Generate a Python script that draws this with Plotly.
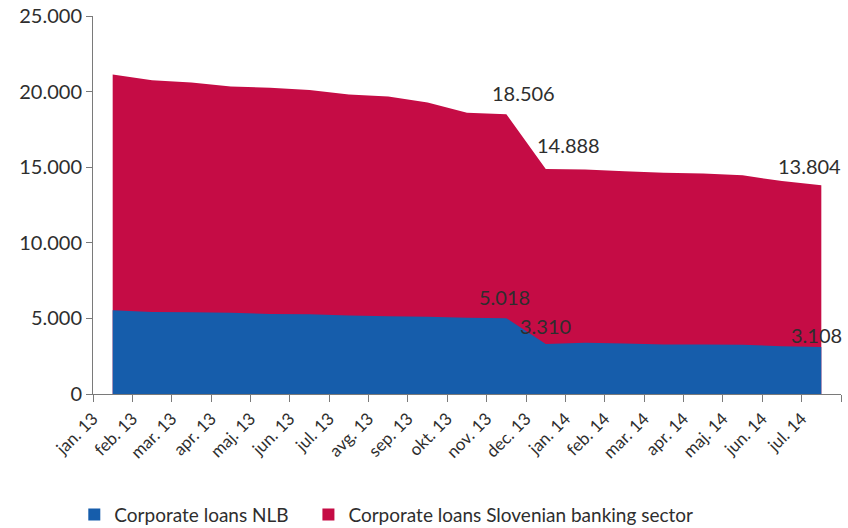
import numpy as np
import plotly.graph_objects as go

# Monthly corporate loans (EUR million)
months = ["jan. 13", "feb. 13", "mar. 13", "apr. 13", "maj. 13", "jun. 13", "jul. 13",
          "avg. 13", "sep. 13", "okt. 13", "nov. 13", "dec. 13", "jan. 14", "feb. 14",
          "mar. 14", "apr. 14", "maj. 14", "jun. 14", "jul. 14"]
loans_nlb = [5540, 5430, 5400, 5380, 5290, 5270, 5200, 5140, 5110, 5050, 5018,
             3310, 3390, 3340, 3280, 3280, 3260, 3150, 3108]
loans_sector = [21130, 20750, 20600, 20340, 20250, 20110, 19810, 19680, 19280, 18600,
                18506, 14888, 14840, 14740, 14630, 14590, 14460, 14080, 13804]
y_ticks = [0, 5000, 10000, 15000, 20000, 25000]

RED = "#C50C45"
BLUE = "#165DAB"
TEXT = "#2e2e2e"
AXIS = "#7a7a7a"
FONT = "Lato"

n = len(months)
# points sit in the middle of each month slot, labels at the slot boundaries
xs = np.arange(n) + 0.5

fig = go.Figure()
fig.add_trace(go.Scatter(x=xs, y=loans_sector, mode="none", fill="tozeroy",
                         fillcolor=RED, showlegend=False, hoverinfo="skip"))
fig.add_trace(go.Scatter(x=xs, y=loans_nlb, mode="none", fill="tozeroy",
                         fillcolor=BLUE, showlegend=False, hoverinfo="skip"))

# square legend keys, one legend box each so the spacing can be set
fig.add_trace(go.Scatter(x=[None], y=[None], mode="markers", name="Corporate loans NLB",
                         marker=dict(symbol="square", size=15, color=BLUE), legend="legend"))
fig.add_trace(go.Scatter(x=[None], y=[None], mode="markers",
                         name="Corporate loans Slovenian banking sector",
                         marker=dict(symbol="square", size=15, color=RED), legend="legend2"))

# value labels: (series, index, xshift, yshift)
labelled = [(loans_sector, 10, 17, 21), (loans_sector, 11, 23, 24), (loans_sector, 18, -12, 19),
            (loans_nlb, 10, -2, 21), (loans_nlb, 11, 0, 18), (loans_nlb, 18, -5, 12)]
for series, i, dx, dy in labelled:
    fig.add_annotation(x=xs[i], y=series[i], text=f"{series[i]:,}".replace(",", "."),
                       showarrow=False, xshift=dx, yshift=dy,
                       font=dict(family=FONT, size=20, color=TEXT))

fig.update_xaxes(range=[0, n], tickmode="array", tickvals=list(range(n + 1)),
                 ticktext=months + [""], tickangle=-45,
                 showline=True, linecolor=AXIS, linewidth=1,
                 ticks="outside", ticklen=7, tickcolor=AXIS,
                 showgrid=False, zeroline=False, automargin=False,
                 tickfont=dict(family=FONT, size=17, color=TEXT))
fig.update_yaxes(range=[0, 25000], tickvals=y_ticks, tickformat=",d",
                 showline=True, linecolor=AXIS, linewidth=1,
                 ticks="outside", ticklen=6, tickcolor=AXIS,
                 showgrid=False, zeroline=False, automargin=False,
                 tickfont=dict(family=FONT, size=20, color=TEXT))

legend_style = dict(orientation="h", xanchor="left", y=-0.319, yanchor="middle",
                    font=dict(family=FONT, size=19, color=TEXT),
                    bgcolor="rgba(0,0,0,0)", itemsizing="constant")
fig.update_layout(
    template="none",
    width=848, height=528,
    margin=dict(l=93, r=7, t=16, b=134, autoexpand=False),
    separators=",.",
    paper_bgcolor="white", plot_bgcolor="white",
    showlegend=True,
    legend=dict(x=-0.025, **legend_style),
    legend2=dict(x=0.288, **legend_style),
)

fig.write_html("out.html")
